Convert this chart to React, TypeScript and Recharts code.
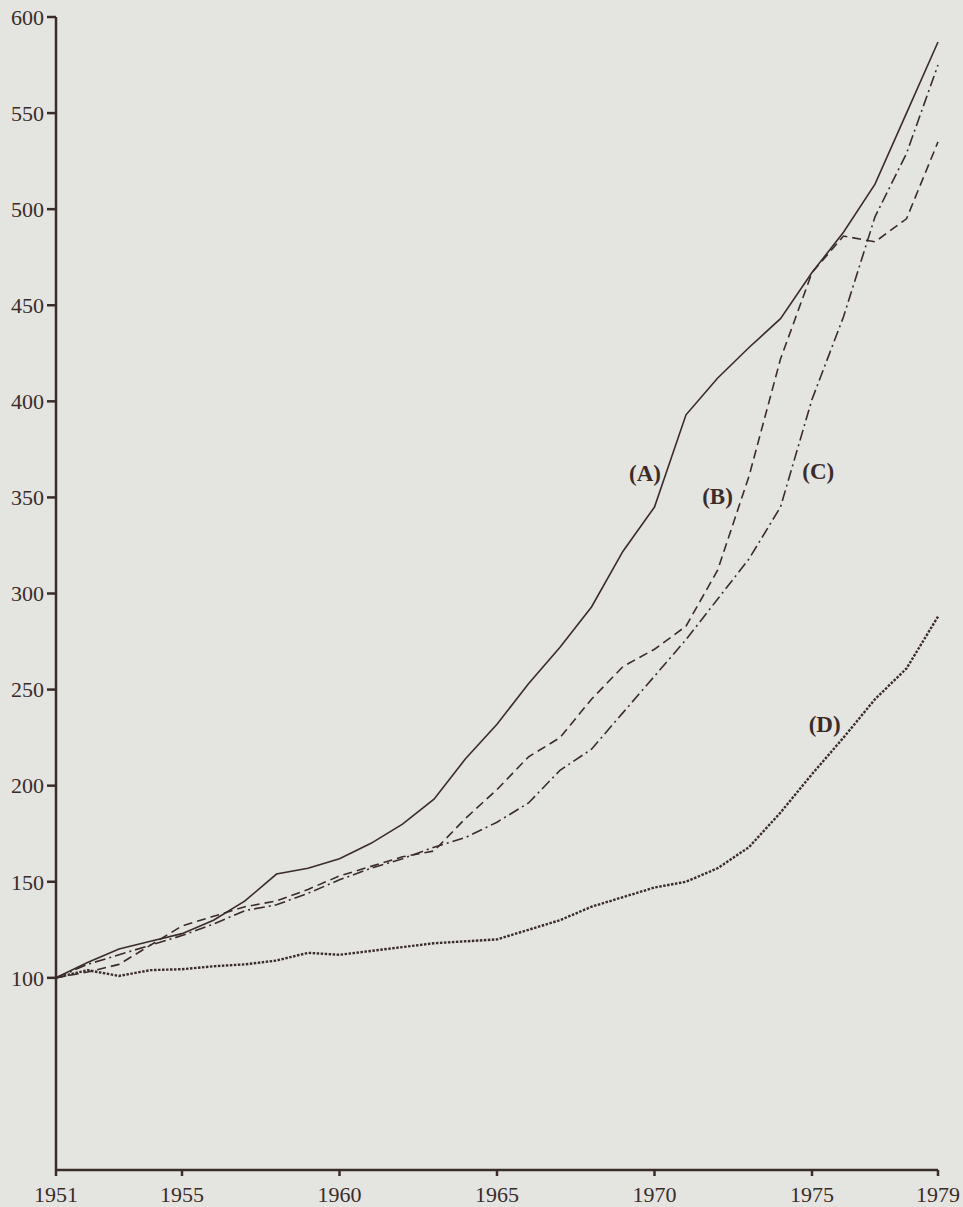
import { LineChart, Line, XAxis, YAxis, ReferenceDot } from "recharts";

// index values, 1951 = 100
const years = [
  1951, 1952, 1953, 1954, 1955, 1956, 1957, 1958, 1959, 1960, 1961, 1962, 1963, 1964, 1965,
  1966, 1967, 1968, 1969, 1970, 1971, 1972, 1973, 1974, 1975, 1976, 1977, 1978, 1979,
];
const seriesA = [
  100, 108, 115, 119, 123, 130, 140, 154, 157, 162, 170, 180, 193, 214, 232,
  253, 272, 293, 322, 345, 393, 412, 428, 443, 467, 488, 513, 550, 587,
];
const seriesB = [
  100, 103, 107, 117, 127, 132, 137, 140, 146, 153, 158, 163, 166, 183, 198,
  215, 225, 245, 262, 271, 283, 312, 361, 422, 467, 486, 483, 495, 535,
];
const seriesC = [
  100, 107, 112, 117, 122, 128, 135, 138, 144, 151, 157, 162, 168, 173, 181,
  191, 208, 219, 238, 257, 276, 297, 318, 345, 401, 444, 496, 529, 575,
];
const seriesD = [
  100, 104, 101, 104, 104.5, 106, 107, 109, 113, 112, 114, 116, 118, 119, 120,
  125, 130, 137, 142, 147, 150, 157, 168, 186, 206, 225, 245, 261, 288,
];
const xTicks = [1951, 1955, 1960, 1965, 1970, 1975, 1979];
const yTicks = [100, 150, 200, 250, 300, 350, 400, 450, 500, 550, 600];

const data = years.map((year, i) => ({
  year,
  a: seriesA[i],
  b: seriesB[i],
  c: seriesC[i],
  d: seriesD[i],
}));

const ink = "#3a2c29";
const font = '"Liberation Serif", "DejaVu Serif", serif';
const tickStyle = { fill: ink, fontSize: 22, fontFamily: font };

const labelProps = (value: string) => ({
  value,
  position: "center" as const,
  fill: ink,
  fontSize: 23,
  fontWeight: 700,
  fontFamily: font,
});

export default function App() {
  return (
    <div
      style={{
        position: "absolute",
        left: 0,
        top: 0,
        width: 963,
        height: 1207,
        background: "#e4e4e1",
      }}
    >
      <LineChart
        width={963}
        height={1207}
        data={data}
        margin={{ top: 17, right: 25, left: 0, bottom: 0 }}
      >
        <XAxis
          dataKey="year"
          type="number"
          domain={[1951, 1979]}
          ticks={xTicks}
          height={37}
          tickSize={6}
          tickMargin={10}
          stroke={ink}
          strokeWidth={2.5}
          tick={tickStyle}
          tickLine={{ stroke: ink, strokeWidth: 2.5 }}
        />
        <YAxis
          type="number"
          domain={[0, 600]}
          ticks={yTicks}
          width={56}
          tickSize={9}
          tickMargin={3}
          stroke={ink}
          strokeWidth={2.5}
          tick={tickStyle}
          tickLine={{ stroke: ink, strokeWidth: 2.5 }}
        />
        <Line
          dataKey="a"
          type="linear"
          stroke={ink}
          strokeWidth={1.6}
          dot={false}
          isAnimationActive={false}
        />
        <Line
          dataKey="b"
          type="linear"
          stroke={ink}
          strokeWidth={1.6}
          strokeDasharray="9 5"
          dot={false}
          isAnimationActive={false}
        />
        <Line
          dataKey="c"
          type="linear"
          stroke={ink}
          strokeWidth={1.6}
          strokeDasharray="11 4 2 4"
          dot={false}
          isAnimationActive={false}
        />
        <Line
          dataKey="d"
          type="linear"
          stroke={ink}
          strokeWidth={2.4}
          strokeDasharray="2.5 1.5"
          dot={false}
          isAnimationActive={false}
        />
        <ReferenceDot x={1969.7} y={363} r={0} label={labelProps("(A)")} />
        <ReferenceDot x={1972.0} y={351} r={0} label={labelProps("(B)")} />
        <ReferenceDot x={1975.2} y={364} r={0} label={labelProps("(C)")} />
        <ReferenceDot x={1975.4} y={232} r={0} label={labelProps("(D)")} />
      </LineChart>
    </div>
  );
}
